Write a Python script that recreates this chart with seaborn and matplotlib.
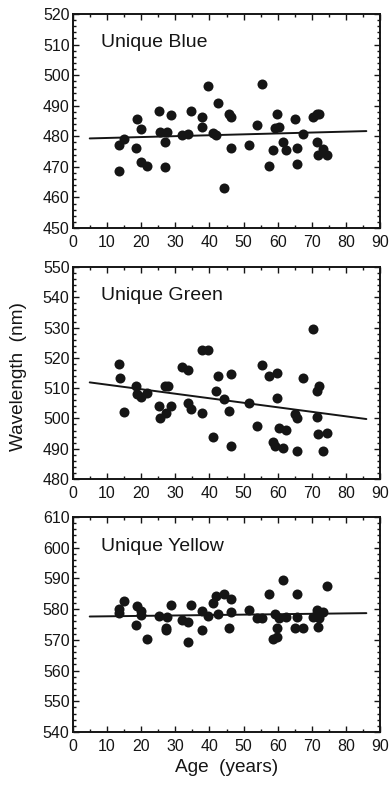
import numpy as np
import pandas as pd
import matplotlib
matplotlib.use("Agg")
import matplotlib.pyplot as plt
from matplotlib.ticker import MultipleLocator
import seaborn as sns

# ---- data ----
age_blue = [13.5, 13.5, 15.0, 18.9, 18.6, 19.9, 19.9, 21.8, 25.2, 25.5, 27.7, 27.1,
            27.1, 28.8, 32.0, 33.7, 34.5, 37.8, 37.8, 39.5, 41.0, 42.0, 42.4, 44.4,
            45.7, 46.4, 46.3, 51.7, 53.8, 55.5, 57.4, 58.6, 59.9, 59.3, 60.3, 61.5,
            62.4, 65.2, 65.6, 65.6, 67.3, 70.5, 71.5, 72.0, 71.5, 71.8, 73.4, 74.4]
wl_blue = [468.5, 477.1, 479.1, 485.8, 476.3, 482.3, 471.5, 470.4, 488.2, 481.3, 481.3, 478.1,
           469.9, 486.8, 480.5, 480.7, 488.2, 486.3, 483.0, 496.3, 481.1, 480.5, 490.9, 463.0,
           487.2, 486.3, 476.3, 477.1, 483.6, 497.2, 470.4, 475.4, 487.2, 482.7, 483.0, 478.1,
           475.4, 485.8, 476.3, 470.8, 480.9, 486.3, 487.4, 487.2, 478.1, 474.0, 475.8, 474.0]

age_green = [13.5, 13.7, 15.0, 18.6, 18.9, 19.9, 21.6, 25.2, 25.5, 27.2, 27.1, 27.8,
             28.8, 32.0, 33.7, 33.7, 34.7, 37.7, 39.5, 37.8, 41.0, 42.0, 42.4, 44.4,
             45.7, 46.4, 46.3, 51.7, 53.8, 55.5, 57.4, 58.6, 59.3, 59.9, 59.9, 60.3,
             61.5, 62.4, 65.2, 65.6, 65.6, 67.3, 70.5, 72.0, 71.5, 71.5, 71.8, 73.4, 74.4]
wl_green = [518.0, 513.3, 502.2, 510.8, 508.0, 507.2, 508.3, 504.1, 500.3, 501.7, 510.6, 510.6,
            504.1, 517.0, 516.1, 505.2, 503.1, 522.6, 522.6, 501.9, 493.9, 509.1, 513.9, 506.4,
            502.4, 514.8, 490.8, 505.0, 497.6, 517.6, 513.9, 492.2, 490.8, 515.1, 506.9, 496.9,
            490.2, 496.3, 501.3, 500.3, 489.2, 513.3, 529.4, 510.8, 509.1, 500.4, 494.8, 489.2, 495.3]

age_yellow = [13.5, 13.5, 15.0, 18.9, 18.6, 19.9, 19.9, 21.8, 25.2, 27.2, 27.2, 27.7,
              28.8, 32.0, 33.7, 33.7, 34.5, 37.8, 37.8, 39.5, 41.0, 42.0, 42.4, 44.4,
              45.7, 46.4, 46.3, 51.7, 53.8, 55.5, 57.4, 58.6, 59.3, 59.9, 59.9, 60.3,
              61.5, 62.4, 65.2, 65.6, 65.6, 67.3, 70.5, 71.5, 72.0, 71.8, 73.4, 74.4]
wl_yellow = [580.2, 578.9, 582.6, 581.1, 575.0, 579.4, 578.1, 570.3, 577.8, 573.2, 573.7, 577.4,
             581.4, 576.6, 575.9, 569.4, 581.4, 579.4, 573.2, 577.8, 581.9, 584.4, 578.3, 584.8,
             573.7, 583.3, 579.2, 579.8, 577.0, 577.2, 584.8, 570.3, 578.3, 570.8, 573.7, 577.0,
             589.4, 577.4, 573.7, 584.8, 577.4, 573.7, 577.4, 579.8, 577.2, 574.1, 579.2, 587.4]

# fitted lines (end points as drawn)
fit_age = [4.9, 86.0]
fit_blue = [479.3, 481.7]
fit_green = [511.9, 499.8]
fit_yellow = [577.6, 578.7]

panels = [
    ("Unique Blue", age_blue, wl_blue, fit_blue, (450, 520)),
    ("Unique Green", age_green, wl_green, fit_green, (480, 550)),
    ("Unique Yellow", age_yellow, wl_yellow, fit_yellow, (540, 610)),
]

sns.set_style("ticks")
plt.rcParams['font.family'] = ['Liberation Sans', 'DejaVu Sans']

fig = plt.figure(figsize=(3.91, 7.89), dpi=100)
left, width = 73 / 391, 307 / 391
boxes = [(14, 228), (267, 479), (517, 732)]  # top/bottom in pixels

ink = "#151515"
for (title, ages, wls, fit, ylim), (top, bot) in zip(panels, boxes):
    ax = fig.add_axes([left, 1 - bot / 789, width, (bot - top) / 789])
    df = pd.DataFrame({"age": ages, "wl": wls})
    sns.scatterplot(data=df, x="age", y="wl", ax=ax, s=52, color=ink,
                    edgecolor=ink, linewidth=0, zorder=3)
    sns.lineplot(x=fit_age, y=fit, ax=ax, color=ink, lw=1.4, zorder=2)

    ax.set_xlim(0, 90)
    ax.set_ylim(*ylim)
    ax.xaxis.set_major_locator(MultipleLocator(10))
    ax.xaxis.set_minor_locator(MultipleLocator(5))
    ax.yaxis.set_major_locator(MultipleLocator(10))
    ax.yaxis.set_minor_locator(MultipleLocator(2))
    ax.tick_params(which="both", direction="in", top=True, right=True,
                   colors=ink, labelsize=11.5, width=1.0)
    ax.tick_params(which="major", length=4.5, pad=2.5)
    ax.tick_params(axis="x", which="major", pad=5)
    ax.tick_params(which="minor", length=2.2)
    for sp in ax.spines.values():
        sp.set_linewidth(1.4)
        sp.set_color(ink)
    ax.set_xlabel("")
    ax.set_ylabel("")
    ax.text(0.09, 0.865, title, transform=ax.transAxes, fontsize=14,
            va="center", ha="left", color=ink)

ax.set_xlabel("Age  (years)", fontsize=13.7, labelpad=4, color=ink)
fig.text(19 / 391, 1 - 377 / 789, "Wavelength  (nm)", rotation=90,
         fontsize=13.7, ha="center", va="center", color=ink)

fig.savefig("out.png", dpi=100)
